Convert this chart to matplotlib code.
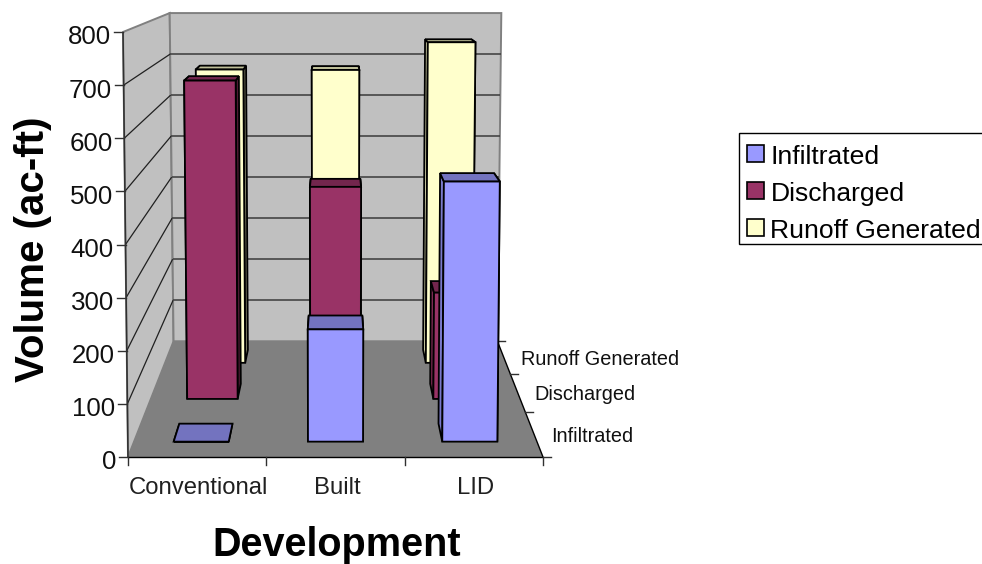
import matplotlib
matplotlib.use("Agg")
import matplotlib.pyplot as plt
from matplotlib.patches import Polygon, Rectangle

plt.rcParams["font.family"] = ["Liberation Sans", "DejaVu Sans"]

categories = ["Conventional", "Built", "LID"]
series_names = ["Infiltrated", "Discharged", "Runoff Generated"]
infiltrated = [0, 218, 505]
discharged = [677, 451, 226]
runoff_generated = [678, 677, 741]
value_ticks = [0, 100, 200, 300, 400, 500, 600, 700, 800]

front_colors = ["#9999FF", "#993366", "#FFFFCC"]
top_colors = ["#7373BF", "#73264D", "#BFBF99"]
left_colors = ["#7A7ACC", "#7A2952", "#CCCCA3"]
right_colors = ["#4D4D80", "#4D1A33", "#808066"]

W, H = 982, 564
fig = plt.figure(figsize=(W / 100, H / 100), dpi=100, facecolor="white")
ax = fig.add_axes([128 / W, 1 - 457 / H, 415 / W, 425 / H])
ax.set_xlim(0, 3)
ax.set_ylim(0, 800)
ax.axis("off")


def project(u, v, d):
    """Perspective view: u along categories, v in value units, d rows into the depth."""
    s_floor = 1 / (1 + 0.0938 * d)
    s_height = 1 / (1 + 0.0983 * d)
    x = 1.5 + (u - 1.5) * (1 + 0.024 * v / 800) * s_floor
    y = 992 * (1 - s_floor) + v * s_height
    return x, y


def face(corners, fc, ec="black", lw=1.3, z=2):
    ax.add_patch(Polygon([project(*c) for c in corners], closed=True, fc=fc, ec=ec,
                         lw=lw, zorder=z, clip_on=False, joinstyle="miter"))


def seg(p, q, color="black", lw=1.0, z=1.5):
    a, b = project(*p), project(*q)
    ax.plot([a[0], b[0]], [a[1], b[1]], color=color, lw=lw, zorder=z, clip_on=False,
            solid_capstyle="butt")


def bar(i, row, value):
    u0, u1 = i + 0.295, i + 0.705
    d0, d1 = row + 0.32, row + 0.72
    z = 10 - row
    face([(u0, 0, d0), (u0, value, d0), (u0, value, d1), (u0, 0, d1)], left_colors[row], z=z)
    face([(u1, 0, d0), (u1, value, d0), (u1, value, d1), (u1, 0, d1)], right_colors[row], z=z)
    face([(u0, value, d0), (u1, value, d0), (u1, value, d1), (u0, value, d1)], top_colors[row], z=z)
    face([(u0, 0, d0), (u1, 0, d0), (u1, value, d0), (u0, value, d0)], front_colors[row], z=z)


# Walls and floor of the box
wall = "#C0C0C0"
edge = "#808080"
face([(0, 0, 0), (0, 800, 0), (0, 800, 3), (0, 0, 3)], wall, ec=edge, lw=1.4, z=1)
face([(0, 0, 3), (0, 800, 3), (3, 800, 3), (3, 0, 3)], wall, ec=edge, lw=1.4, z=1)
face([(0, 0, 0), (3, 0, 0), (3, 0, 3), (0, 0, 3)], edge, ec="none", lw=0, z=1.2)

# Gridlines along both walls
for v in value_ticks[1:-1]:
    seg((0, v, 0), (0, v, 3), color="#202020", lw=0.9)
    seg((0, v, 3), (3, v, 3), color="#404040", lw=1.15)

# Bars, painted from the back row forwards
for row, values in reversed(list(enumerate([infiltrated, discharged, runoff_generated]))):
    for i, value in enumerate(values):
        bar(i, row, value)

# Value axis with ticks and labels
seg((0, 0, 0), (0, 800, 0), color="#303030", lw=1.1, z=3)
for v in value_ticks:
    x, y = project(0, v, 0)
    ax.plot([x - 0.065, x], [y, y], color="#303030", lw=1.0, zorder=3, clip_on=False)
    ax.text(x - 0.085, y - 5.5, str(v), ha="right", va="center_baseline", fontsize=18.6,
            color="#101010")

# Category axis with ticks and labels
seg((0, 0, 0), (3, 0, 0), color="black", lw=1.0, z=3)
for i in range(4):
    ax.plot([i, i], [0, -15], color="#303030", lw=1.0, zorder=3, clip_on=False)
for i, name in enumerate(categories):
    ax.text(i + 0.51, -53, name, ha="center", va="center_baseline", fontsize=17.2,
            color="#202020")

# Depth axis with series labels
seg((3, 0, 0), (3, 0, 3), color="black", lw=1.0, z=3)
for d in range(4):
    x, y = project(3, 0, d)
    ax.plot([x, x + 0.0578], [y, y], color="#303030", lw=1.0, zorder=3, clip_on=False)
for row, name in enumerate(series_names):
    x, y = project(3, 0, row + 0.46)
    ax.text(x + 0.12, y + 1, name, ha="left", va="center_baseline", fontsize=14.3,
            color="#101010")

# Axis titles
fig.text(336.5 / W, 1 - 545.5 / H, "Development", ha="center", va="center", fontsize=28.5,
         fontweight="bold")
fig.text(33 / W, 1 - 249 / H, "Volume (ac-ft)", ha="center", va="center", rotation=90,
         fontsize=29, fontweight="bold")

# Legend box, running off the right-hand edge
fig.add_artist(Rectangle((739 / W, 1 - 244 / H), 260 / W, 111 / H, transform=fig.transFigure,
                         fc="white", ec="black", lw=1.0))
for row, name in enumerate(series_names):
    top = 145 + row * 37
    fig.add_artist(Rectangle((747 / W, 1 - (top + 17) / H), 17 / W, 17 / H,
                             transform=fig.transFigure, fc=front_colors[row], ec="black", lw=1.2))
    fig.text(770.5 / W, 1 - (top + 10) / H, name, ha="left", va="center_baseline", fontsize=19.05)

fig.savefig("out.png", dpi=100)
